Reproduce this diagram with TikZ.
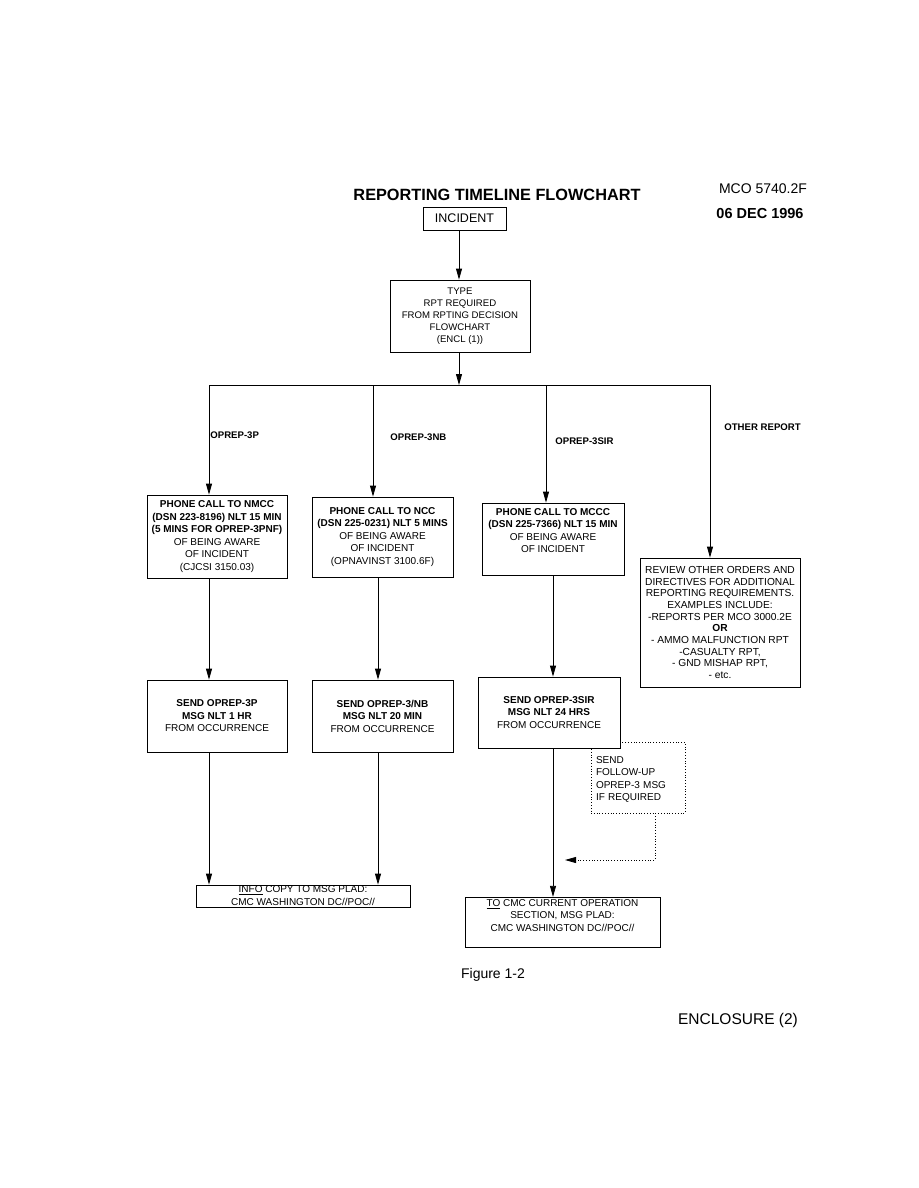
\documentclass[tikz,border=0pt]{standalone}
\usepackage{fontspec}
\setmainfont{Liberation Sans}
\usetikzlibrary{arrows.meta}

\begin{document}
\begin{tikzpicture}[x=1pt, y=-1pt, line width=0.8pt,
  box/.style={draw, fill=white, align=center, inner sep=2pt,
              font=\fontsize{10}{12.5}\selectfont},
  lab/.style={anchor=west, inner sep=1pt, font=\fontsize{9.6}{11}\selectfont\bfseries},
  >={Triangle[length=11pt,width=6pt]}]
\useasboundingbox (0,0) rectangle (918,1188);
\node[font=\fontsize{16.3}{18}\selectfont\bfseries] (title) at (497,195)
  {REPORTING TIMELINE FLOWCHART};
\node[font=\fontsize{14}{16}\selectfont] (mco) at (763,189) {MCO 5740.2F};
\node[font=\fontsize{14.5}{16}\selectfont\bfseries] (date) at (760,214) {06 DEC 1996};
\node[box, minimum width=83, minimum height=23, font=\fontsize{12.5}{14}\selectfont]
  (incident) at (464.5,218.5) {INCIDENT};
\node[box, minimum width=140, minimum height=72, font=\fontsize{9.6}{12}\selectfont]
  (type) at (460,316)
  {TYPE\\ RPT REQUIRED\\ FROM RPTING DECISION\\ FLOWCHART\\ (ENCL (1))};
\coordinate (j) at (459,385);
\coordinate (b1) at (209,385);
\coordinate (b2) at (373,385);
\coordinate (b3) at (546,385);
\coordinate (b4) at (710,385);
\coordinate (c1) at (209,0);
\coordinate (c2) at (378,0);
\coordinate (c3) at (553,0);
\node[lab] (l1) at (209,435) {OPREP-3P};
\node[lab] (l2) at (389,437) {OPREP-3NB};
\node[lab] (l3) at (554,441) {OPREP-3SIR};
\node[lab] (l4) at (723,427) {OTHER REPORT};
\node[box, minimum width=140, minimum height=83] (nmcc) at (217,536.5)
  {\textbf{PHONE CALL TO NMCC}\\ \textbf{(DSN 223-8196) NLT 15 MIN}\\
   \textbf{(5 MINS FOR OPREP-3PNF)}\\ OF BEING AWARE\\ OF INCIDENT\\ (CJCSI 3150.03)};
\node[box, minimum width=141, minimum height=80] (ncc) at (382.5,537)
  {\textbf{PHONE CALL TO NCC}\\ \textbf{(DSN 225-0231) NLT 5 MINS}\\
   OF BEING AWARE\\ OF INCIDENT\\ (OPNAVINST 3100.6F)};
\node[box, minimum width=142, minimum height=72] (mccc) at (553,539)
  {\textbf{PHONE CALL TO MCCC}\\ \textbf{(DSN 225-7366) NLT 15 MIN}\\
   OF BEING AWARE\\ OF INCIDENT\\[4pt]};
\node[box, minimum width=160, minimum height=129, font=\fontsize{10.2}{11.7}\selectfont]
  (other) at (720,622.5)
  {REVIEW OTHER ORDERS AND\\ DIRECTIVES FOR ADDITIONAL\\ REPORTING REQUIREMENTS.\\
   EXAMPLES INCLUDE:\\ -REPORTS PER MCO 3000.2E\\ \textbf{OR}\\
   - AMMO MALFUNCTION RPT\\ -CASUALTY RPT,\\ - GND MISHAP RPT,\\ - etc.};
\node[box, minimum width=140, minimum height=72] (msg3p) at (217,716)
  {\textbf{SEND OPREP-3P}\\ \textbf{MSG NLT 1 HR}\\ FROM OCCURRENCE};
\node[box, minimum width=141, minimum height=72] (msg3nb) at (382.5,716)
  {\textbf{SEND OPREP-3/NB}\\ \textbf{MSG NLT 20 MIN}\\ FROM OCCURRENCE};
\node[box, dotted, minimum width=94, minimum height=71, text width=84,
      align=left, inner xsep=3pt] (followup) at (638,777.5)
  {\\[-2pt]SEND\\ FOLLOW-UP\\ OPREP-3 MSG\\ IF REQUIRED};
\node[box, minimum width=142, minimum height=71] (msg3sir) at (549,712.5)
  {\textbf{SEND OPREP-3SIR}\\ \textbf{MSG NLT 24 HRS}\\ FROM OCCURRENCE};
\node[box, minimum width=214, minimum height=22, inner ysep=0pt,
      font=\fontsize{10}{13}\selectfont] (info) at (303,896)
  {\underline{INFO} COPY TO MSG PLAD:\\ CMC WASHINGTON DC//POC//};
\node[box, minimum width=195, minimum height=49] (cmc) at (562.5,922.5)
  {\underline{TO} CMC CURRENT OPERATION\\ SECTION, MSG PLAD:\\ CMC WASHINGTON DC//POC//\\[2pt]};
\coordinate (futurn) at (655,860);
\coordinate (fuend) at (565,860);
\node[font=\fontsize{14}{16}\selectfont] (fig) at (493,975) {Figure 1-2};
\node[font=\fontsize{15.5}{17}\selectfont] (encl) at (738,1020) {ENCLOSURE (2)};
\draw[->] (incident.south -| j) -- (type.north -| j);
\draw[->] (type.south -| j) -- (j);
\draw (b1) -- (b4);
\draw[->] (b1) -- (b1 |- nmcc.north);
\draw[->] (b2) -- (b2 |- ncc.north);
\draw[->] (b3) -- (b3 |- mccc.north);
\draw[->] (b4) -- (b4 |- other.north);
\draw[->] (nmcc.south -| c1) -- (msg3p.north -| c1);
\draw[->] (ncc.south -| c2) -- (msg3nb.north -| c2);
\draw[->] (mccc.south -| c3) -- (msg3sir.north -| c3);
\draw[->] (msg3p.south -| c1) -- (info.north -| c1);
\draw[->] (msg3nb.south -| c2) -- (info.north -| c2);
\draw[->] (msg3sir.south -| c3) -- (cmc.north -| c3);
\draw[dotted, ->] (futurn |- followup.south) -- (futurn) -- (fuend);
\end{tikzpicture}
\end{document}
